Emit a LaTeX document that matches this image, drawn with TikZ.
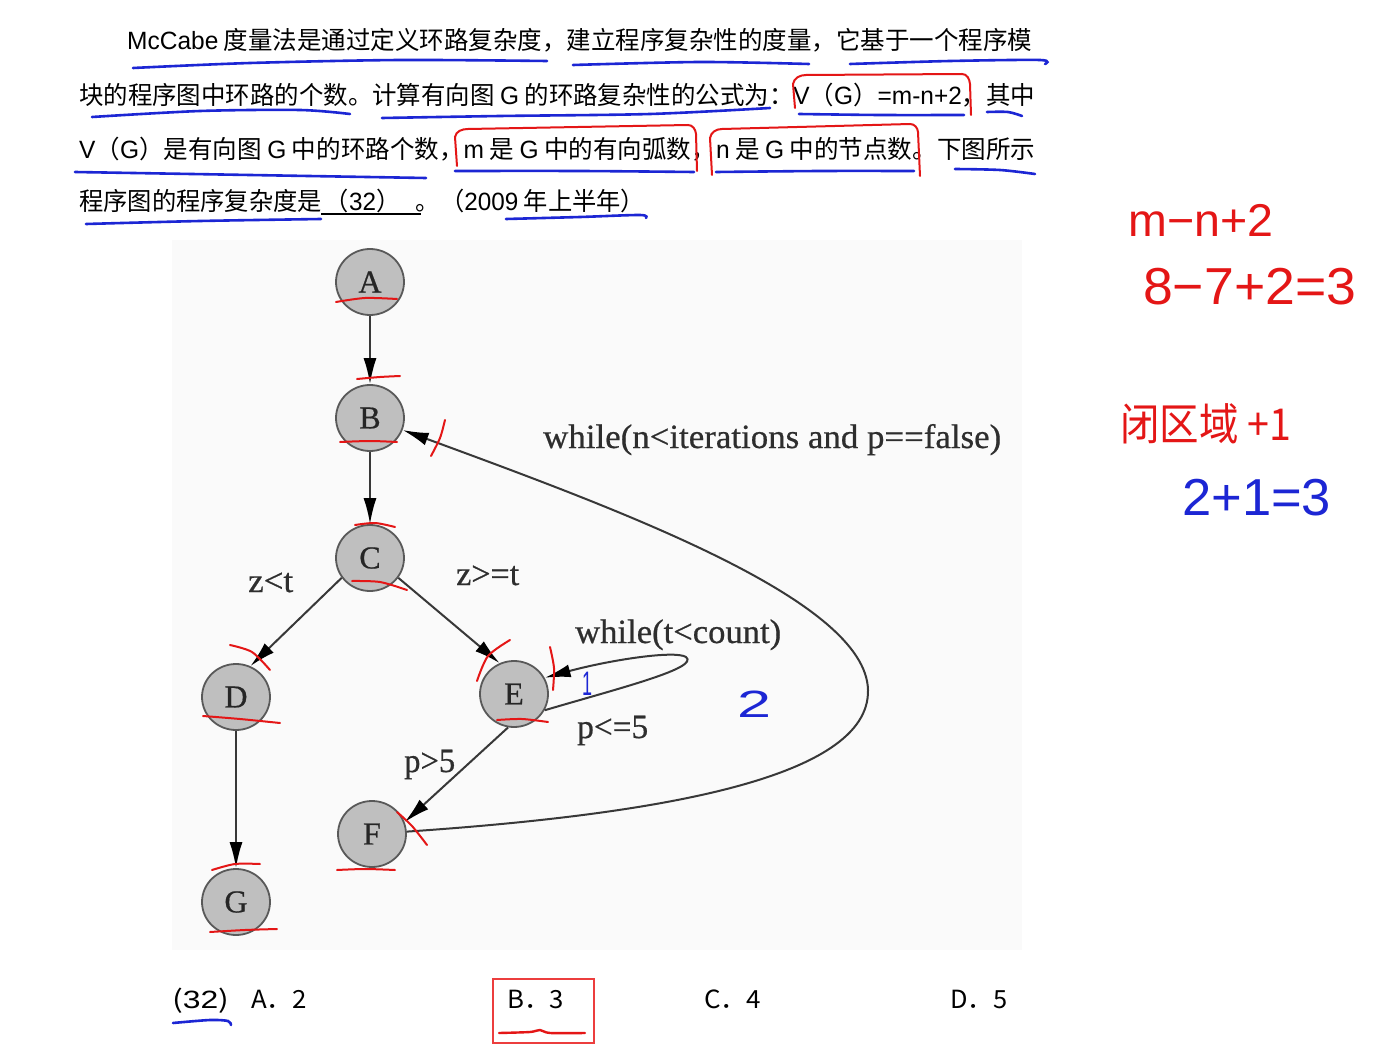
\documentclass[tikz,border=0pt]{standalone}
\usepackage{fontspec}
\usepackage{graphicx}
\setmainfont{Liberation Serif}
\newfontfamily\cjk{Noto Sans CJK SC}
\newfontfamily\lat{Liberation Sans}
\newfontfamily\gfont{Liberation Serif}[FakeBold=0.6]
\usetikzlibrary{arrows.meta,shapes.geometric}
\definecolor{penred}{RGB}{228,22,22}
\definecolor{penblue}{RGB}{28,38,212}
\definecolor{boxred}{RGB}{236,62,62}
\newsavebox\fitbox
\newdimen\fitw
\newcommand\fitto[2]{\sbox\fitbox{#2}\fitw=\wd\fitbox\pgfmathsetmacro\fitratio{#1/\fitw}\scalebox{\fitratio}[1]{\usebox\fitbox}}
\tikzset{
  gnode/.style={ellipse, draw=black!65, line width=1.8pt, fill=gray!50, minimum width=68pt, minimum height=66pt, inner sep=0pt, text=black!85, font=\gfont\fontsize{32}{32}\selectfont},
  edge/.style={draw=black!78, line width=2pt, -{Latex[length=26pt,width=13pt,color=black]}},
  lbl/.style={anchor=base west, inner sep=0pt, text=black!82, font=\gfont\fontsize{34}{34}\selectfont},
  txt/.style={anchor=base west, inner sep=0pt, font=\cjk\fontsize{25}{25}\selectfont},
  redpen/.style={draw=penred, line width=2pt, line cap=round},
  bluepen/.style={draw=penblue, line width=2.6pt, line cap=round},
  hand/.style={anchor=base west, inner sep=0pt},
}
\begin{document}
\begin{tikzpicture}[x=1pt,y=-1pt]
\useasboundingbox[fill=white] (0,0) rectangle (1390,1051);
% graph background
\fill[black!2] (172,240) rectangle (1022,950);

% ---------- question text ----------
\node[txt] (t1) at (127,50) {\fitto{905}{{\lat McCabe} 度量法是通过定义环路复杂度，建立程序复杂性的度量，它基于一个程序模}};
\node[txt] (t2) at (79,105) {\fitto{956}{块的程序图中环路的个数。计算有向图 {\lat G} 的环路复杂性的公式为：{\lat V}（{\lat G}）{\lat =m-n+2}，其中}};
\node[txt] (t3) at (79,159) {\fitto{956}{{\lat V}（{\lat G}）是有向图 {\lat G} 中的环路个数，{\lat m} 是 {\lat G} 中的有向弧数，{\lat n} 是 {\lat G} 中的节点数。下图所示}};
\node[txt] (t4) at (79,211) {\fitto{566}{程序图的程序复杂度是\hspace{3pt}（{\lat 32}）\hspace{16pt}。（{\lat 2009} 年上半年）}};
\draw[black, line width=1.4pt] (321,214) -- (421,214);

% blue underlines of the text
\draw[bluepen] plot[smooth] coordinates {(133,68) (250,63) (400,60) (547,61)};
\draw[bluepen] plot[smooth] coordinates {(573,65) (700,62) (809,64)};
\draw[bluepen] plot[smooth] coordinates {(850,64) (950,61) (1040,60) (1045,64)};
\draw[bluepen] plot[smooth] coordinates {(92,117) (200,111) (300,110) (350,114)};
\draw[bluepen] plot[smooth] coordinates {(382,118) (500,116) (650,114) (770,108)};
\draw[bluepen] plot[smooth] coordinates {(799,114) (880,115) (964,115)};
\draw[bluepen] plot[smooth] coordinates {(987,112) (1008,112) (1022,116)};
\draw[bluepen] plot[smooth] coordinates {(75,172) (250,175) (426,178)};
\draw[bluepen] plot[smooth] coordinates {(455,171) (580,171) (694,172)};
\draw[bluepen] plot[smooth] coordinates {(716,172) (820,171) (914,171)};
\draw[bluepen] plot[smooth] coordinates {(955,169) (1000,170) (1035,174)};
\draw[bluepen] plot[smooth] coordinates {(86,224) (200,221) (321,219)};
\draw[bluepen] plot[smooth] coordinates {(506,219) (580,217) (640,215) (646,218)};

% red hand-drawn boxes
\draw[redpen] (795,108) -- (793,84) to[out=80,in=180] (806,75) -- (962,74) to[out=0,in=95] (970,84) -- (971,115);
\draw[redpen] (457,166) -- (455,137) to[out=80,in=180] (468,129) -- (688,125) to[out=0,in=95] (696,134) -- (697,171);
\draw[redpen] (712,175) -- (710,138) to[out=80,in=180] (722,129) -- (910,124) to[out=0,in=95] (918,132) -- (920,176);

% ---------- graph ----------
\node[gnode] (A) at (370,282) {A};
\node[gnode] (B) at (370,418) {B};
\node[gnode] (C) at (370,558) {C};
\node[gnode] (D) at (236,697) {D};
\node[gnode] (E) at (514,694) {E};
\node[gnode] (F) at (372,834) {F};
\node[gnode] (G) at (236,902) {G};

\coordinate (turn) at (868,690);
\coordinate (looptip) at (686,657);

\draw[edge] (A) -- (B);
\draw[edge] (B) -- (C);
\draw[edge] (C.215) -- (D.65);
\draw[edge] (C.-35) -- (E.115);
\draw[edge] (D) -- (G);
\draw[edge] (E.260) -- (F.20);
\draw[edge] (F) .. controls (650,815) and (870,780) .. (turn) .. controls (866,600) and (620,510) .. (B);
\draw[edge] (E.-28) .. controls (620,688) and (700,668) .. (looptip) .. controls (675,650) and (610,660) .. (E.28);

\node[lbl] (l1) at (543,448) {\fitto{458}{while(n<iterations and p==false)}};
\node[lbl] (l2) at (575,643) {\fitto{206}{while(t<count)}};
\node[lbl] (l3) at (577,738) {\fitto{71}{p<=5}};
\node[lbl] (l4) at (456,585) {\fitto{63}{z>=t}};
\node[lbl] (l5) at (248,592) {\fitto{45}{z<t}};
\node[lbl] (l6) at (404,772) {\fitto{51}{p>5}};

% red marks on the graph
\draw[redpen] plot[smooth] coordinates {(336,302) (365,298) (397,299)};
\draw[redpen] plot[smooth] coordinates {(357,379) (380,377) (400,376)};
\draw[redpen] plot[smooth] coordinates {(340,442) (370,441) (397,442)};
\draw[redpen] plot[smooth] coordinates {(445,420) (440,438) (431,456)};
\draw[redpen] plot[smooth] coordinates {(355,525) (375,523) (395,527)};
\draw[redpen] plot[smooth] coordinates {(352,581) (380,582) (407,590)};
\draw[redpen] plot[smooth] coordinates {(230,645) (252,652) (270,670)};
\draw[redpen] plot[smooth] coordinates {(203,716) (240,719) (280,723)};
\draw[redpen] plot[smooth] coordinates {(477,681) (488,656) (510,640)};
\draw[redpen] plot[smooth] coordinates {(550,647) (554,668) (553,690)};
\draw[redpen] plot[smooth] coordinates {(497,720) (522,719) (548,722)};
\draw[redpen] plot[smooth] coordinates {(397,812) (412,826) (427,845)};
\draw[redpen] plot[smooth] coordinates {(337,870) (365,869) (395,870)};
\draw[redpen] plot[smooth] coordinates {(212,870) (235,864) (260,864)};
\draw[redpen] plot[smooth] coordinates {(210,932) (245,930) (277,929)};

% blue region numbers
\node[hand, text=penblue, font=\lat\fontsize{34}{34}\selectfont] (n1) at (582,695) {\fitto{10}{1}};
\node[hand, text=penblue, font=\lat\fontsize{38}{38}\selectfont] (n2) at (737,717) {\fitto{34}{2}};

% ---------- handwriting on the right ----------
\node[hand, text=penred, font=\lat\fontsize{46}{46}\selectfont] (h1) at (1128,237) {\fitto{145}{m−n+2}};
\node[hand, text=penred, font=\lat\fontsize{52}{52}\selectfont] (h2) at (1143,305) {\fitto{213}{8−7+2=3}};
\node[hand, text=penred, font=\cjk\fontsize{44}{44}\selectfont] (h3) at (1120,440) {\fitto{171}{闭区域 +1}};
\node[hand, text=penblue, font=\lat\fontsize{52}{52}\selectfont] (h4) at (1182,515) {\fitto{149}{2+1=3}};

% ---------- options ----------
\node[txt] (o0) at (172,1008) {\fitto{57}{({\lat 32})}};
\node[txt] (o1) at (251,1008) {\fitto{56}{A．2}};
\node[txt] (o2) at (507,1008) {\fitto{57}{B．3}};
\node[txt] (o3) at (704,1008) {\fitto{57}{C．4}};
\node[txt] (o4) at (950,1008) {\fitto{57}{D．5}};
\draw[boxred, line width=2.6pt] (493,979) rectangle (594,1043);
\draw[redpen, line width=2.4pt] plot[smooth] coordinates {(499,1033) (530,1032) (540,1030) (550,1033) (585,1033)};
\draw[bluepen] plot[smooth] coordinates {(173,1023) (210,1020) (228,1021) (231,1025)};
\end{tikzpicture}
\end{document}
